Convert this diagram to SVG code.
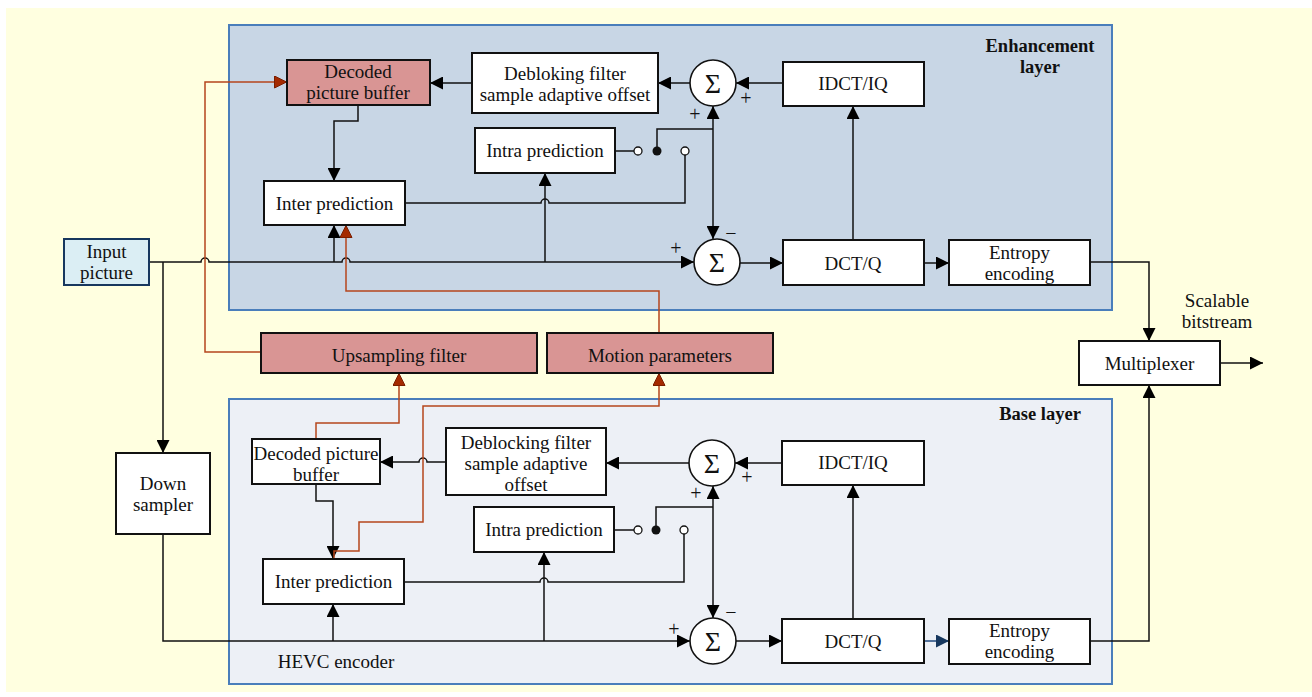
<svg xmlns="http://www.w3.org/2000/svg" width="1312" height="697" viewBox="0 0 1312 697">
<style>
.t{font-family:"Liberation Serif","Times New Roman",serif;font-size:19px;fill:#111;text-anchor:middle}
.b{font-weight:bold;font-size:18.5px}
.s{font-size:20px}
.g{font-size:28px}
.box{fill:#fff;stroke:#111;stroke-width:2}
.red{fill:#D99594;stroke:#111;stroke-width:2}
.sig{fill:#fff;stroke:#111;stroke-width:1.6}
.c{fill:none;stroke:#111;stroke-width:1.5}
.cr{fill:none;stroke:#B5461D;stroke-width:1.5}
.cb{fill:none;stroke:#1F497D;stroke-width:1.5}
.oc{fill:#fff;stroke:#111;stroke-width:1.3}
</style>
<defs>
<marker id="ak" markerUnits="userSpaceOnUse" markerWidth="13" markerHeight="13" refX="13" refY="6.5" orient="auto"><path d="M0,0 L13,6.5 L0,13 z" fill="#000"/></marker>
<marker id="ar" markerUnits="userSpaceOnUse" markerWidth="13" markerHeight="13" refX="13" refY="6.5" orient="auto"><path d="M0.5,0.5 L12.5,6.5 L0.5,12.5 z" fill="#A52A00" stroke="#7A1E00" stroke-width="1"/></marker>
<marker id="ab" markerUnits="userSpaceOnUse" markerWidth="13" markerHeight="13" refX="13" refY="6.5" orient="auto"><path d="M0,0 L13,6.5 L0,13 z" fill="#17375E"/></marker>
</defs>
<rect x="6" y="8" width="1306" height="684" fill="#FFFFE0"/>
<g id="enhancement-layer">
<rect x="229" y="25" width="883" height="285" fill="#C8D6E5" stroke="#4A7EBB" stroke-width="2"/>
<text class="t b" x="1040" y="52">Enhancement</text>
<text class="t b" x="1040" y="73">layer</text>
</g>
<g id="base-layer">
<rect x="229" y="399" width="883" height="285" fill="#EDF0F6" stroke="#4A7EBB" stroke-width="2"/>
<text class="t b" x="1040" y="420">Base layer</text>
<text class="t" x="336" y="668">HEVC encoder</text>
</g>
<g id="connectors">
<path class="c" d="M358,105 V121 H334 V181" marker-end="url(#ak)"/>
<path class="c" d="M472,83 H430" marker-end="url(#ak)"/>
<path class="c" d="M690,83 H658" marker-end="url(#ak)"/>
<path class="c" d="M783,83 H736" marker-end="url(#ak)"/>
<path class="c" d="M853,240 V106" marker-end="url(#ak)"/>
<path class="c" d="M740,263 H783" marker-end="url(#ak)"/>
<path class="c" d="M924,263 H949" marker-end="url(#ak)"/>
<path class="c" d="M1090,262 H1149 V341" marker-end="url(#ak)"/>
<path class="c" d="M1220,363 H1263" marker-end="url(#ak)"/>
<path class="c" d="M149,262 H201 A4,4 0 0 1 209,262 H342 A4,4 0 0 1 350,262 H694" marker-end="url(#ak)"/>
<path class="c" d="M163,262 V453" marker-end="url(#ak)"/>
<path class="c" d="M334,262 V225" marker-end="url(#ak)"/>
<path class="c" d="M545,262 V173" marker-end="url(#ak)"/>
<path class="c" d="M405,203 H541 A4,4 0 0 1 549,203 H685 V155"/>
<path class="c" d="M615,151 H634"/>
<path class="c" d="M657,151 V129 H713"/>
<path class="c" d="M713,129 V106" marker-end="url(#ak)"/>
<path class="c" d="M713,129 V239" marker-end="url(#ak)"/>
<circle class="oc" cx="638" cy="151" r="4"/>
<circle cx="657" cy="151" r="4.5" fill="#111"/>
<circle class="oc" cx="685" cy="151" r="4"/>
<path class="c" d="M163,534 V641 H690" marker-end="url(#ak)"/>
<path class="c" d="M333,641 V604" marker-end="url(#ak)"/>
<path class="c" d="M544,641 V552" marker-end="url(#ak)"/>
<path class="c" d="M316,484 V501 H333 V559" marker-end="url(#ak)"/>
<path class="c" d="M446,462 H427 A4,4 0 0 0 419,462 H380" marker-end="url(#ak)"/>
<path class="c" d="M689,463 H606" marker-end="url(#ak)"/>
<path class="c" d="M782,463 H735" marker-end="url(#ak)"/>
<path class="c" d="M853,619 V485" marker-end="url(#ak)"/>
<path class="c" d="M736,641 H782" marker-end="url(#ak)"/>
<path class="cb" d="M924,641 H949" marker-end="url(#ab)"/>
<path class="c" d="M1090,641 H1149 V385" marker-end="url(#ak)"/>
<path class="c" d="M404,582 H540 A4,4 0 0 1 548,582 H684 V534"/>
<path class="c" d="M614,530 H634"/>
<path class="c" d="M656,530 V507 H713"/>
<path class="c" d="M713,507 V486" marker-end="url(#ak)"/>
<path class="c" d="M713,507 V618" marker-end="url(#ak)"/>
<circle class="oc" cx="638" cy="530" r="4"/>
<circle cx="656" cy="530" r="4.5" fill="#111"/>
<circle class="oc" cx="684" cy="530" r="4"/>
<path class="cr" d="M261,352 H205 V82 H287" marker-end="url(#ar)"/>
<path class="cr" d="M659,333 V291 H346 V225" marker-end="url(#ar)"/>
<path class="cr" d="M316,439 V423 H399 V373" marker-end="url(#ar)"/>
<path class="cr" d="M334,559 V551 H359 V522 H423 V406 H659 V373" marker-end="url(#ar)"/>
</g>
<g id="el-dpb"><rect class="red" x="287" y="60" width="143" height="45"/><text class="t" x="358" y="78">Decoded</text><text class="t" x="358" y="99">picture buffer</text></g>
<g id="el-deblocking"><rect class="box" x="472" y="53" width="186" height="60"/><text class="t" x="565" y="80">Debloking filter</text><text class="t" x="565" y="101">sample adaptive offset</text></g>
<g id="el-sum-top"><circle class="sig" cx="713" cy="83" r="23"/><text class="t g" x="713" y="93">Σ</text></g>
<g id="el-idct"><rect class="box" x="783" y="62" width="141" height="44"/><text class="t" x="853" y="90">IDCT/IQ</text></g>
<g id="el-intra"><rect class="box" x="475" y="128" width="140" height="45"/><text class="t" x="545" y="157">Intra prediction</text></g>
<g id="el-inter"><rect class="box" x="264" y="181" width="141" height="44"/><text class="t" x="334.5" y="210">Inter prediction</text></g>
<g id="el-sum-bottom"><circle class="sig" cx="717" cy="262" r="23"/><text class="t g" x="717" y="272">Σ</text></g>
<g id="el-dct"><rect class="box" x="783" y="240" width="141" height="45"/><text class="t" x="853" y="270">DCT/Q</text></g>
<g id="el-entropy"><rect class="box" x="949" y="240" width="141" height="45"/><text class="t" x="1019.5" y="259">Entropy</text><text class="t" x="1019.5" y="280">encoding</text></g>
<g id="el-signs"><text class="t s" x="746" y="105">+</text><text class="t s" x="695" y="121">+</text><text class="t s" x="676" y="255">+</text><text class="t s" x="731" y="240">−</text></g>
<g id="input-picture"><rect x="64" y="239" width="85" height="46" fill="#DBEEF4" stroke="#17375E" stroke-width="2"/><text class="t" x="106.5" y="258">Input</text><text class="t" x="106.5" y="279">picture</text></g>
<g id="down-sampler"><rect class="box" x="116" y="453" width="94" height="81"/><text class="t" x="163" y="490">Down</text><text class="t" x="163" y="511">sampler</text></g>
<g id="upsampling-filter"><rect class="red" x="261" y="333" width="276" height="40"/><text class="t" x="399" y="362">Upsampling filter</text></g>
<g id="motion-parameters"><rect class="red" x="547" y="333" width="226" height="40"/><text class="t" x="660" y="362">Motion parameters</text></g>
<g id="multiplexer"><rect class="box" x="1079" y="341" width="141" height="44"/><text class="t" x="1149.5" y="370">Multiplexer</text></g>
<g id="scalable-label"><text class="t" x="1217" y="307">Scalable</text><text class="t" x="1217" y="328">bitstream</text></g>
<g id="bl-dpb"><rect class="box" x="252" y="439" width="128" height="45"/><text class="t" x="316" y="460">Decoded picture</text><text class="t" x="316" y="481">buffer</text></g>
<g id="bl-deblocking"><rect class="box" x="446" y="428" width="160" height="67"/><text class="t" x="526" y="449">Deblocking filter</text><text class="t" x="526" y="470">sample adaptive</text><text class="t" x="526" y="491">offset</text></g>
<g id="bl-sum-top"><circle class="sig" cx="712" cy="463" r="23"/><text class="t g" x="712" y="473">Σ</text></g>
<g id="bl-idct"><rect class="box" x="782" y="441" width="142" height="44"/><text class="t" x="853" y="469">IDCT/IQ</text></g>
<g id="bl-intra"><rect class="box" x="474" y="507" width="140" height="45"/><text class="t" x="544" y="536">Intra prediction</text></g>
<g id="bl-inter"><rect class="box" x="263" y="559" width="141" height="45"/><text class="t" x="333.5" y="588">Inter prediction</text></g>
<g id="bl-sum-bottom"><circle class="sig" cx="713" cy="641" r="23"/><text class="t g" x="713" y="651">Σ</text></g>
<g id="bl-dct"><rect class="box" x="782" y="619" width="142" height="44"/><text class="t" x="853" y="648">DCT/Q</text></g>
<g id="bl-entropy"><rect class="box" x="949" y="619" width="141" height="45"/><text class="t" x="1019.5" y="637">Entropy</text><text class="t" x="1019.5" y="658">encoding</text></g>
<g id="bl-signs"><text class="t s" x="747" y="484">+</text><text class="t s" x="696" y="500">+</text><text class="t s" x="674" y="636">+</text><text class="t s" x="731" y="619">−</text></g>
</svg>
